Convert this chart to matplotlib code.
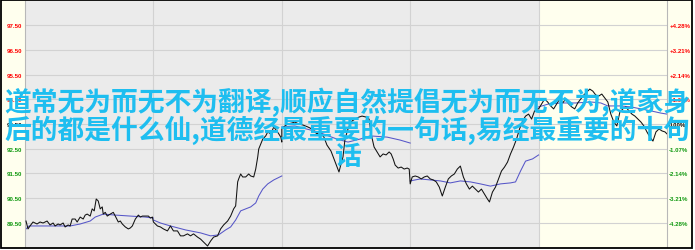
import matplotlib
matplotlib.use("Agg")
import matplotlib.pyplot as plt
from matplotlib.patches import Rectangle
import numpy as np

# Five-session intraday chart: each session has 128 sample slots
SLOTS = 128
prev_close = 93.50

# ---- session price samples (slot index, price) ----
day1_t = [1, 3, 5, 8, 12, 15, 18, 22, 25, 28, 30, 33, 35, 38, 40, 43, 45, 47, 50, 52,
          55, 58, 60, 62, 65, 67, 69, 71, 73, 75, 77, 78, 80, 82, 85, 88, 90, 93, 95, 97,
          100, 103, 105, 107, 110, 113, 115, 117, 120, 123, 125, 127]
day1_px = [89.58, 89.26, 89.38, 89.54, 89.46, 89.54, 89.50, 89.58, 89.42, 89.50,
           89.38, 89.46, 89.42, 89.50, 89.34, 89.42, 89.38, 89.66, 89.66, 89.54,
           89.74, 89.66, 89.82, 89.86, 89.78, 90.07, 89.99, 90.47, 90.39, 90.07,
           90.15, 89.86, 89.93, 89.78, 89.86, 89.93, 89.78, 89.54, 89.58, 89.46,
           89.34, 89.26, 89.30, 89.38, 89.66, 89.82, 89.74, 89.78, 89.78, 89.78,
           89.70, 89.74]

day2_t = [0, 4, 7, 10, 14, 17, 20, 24, 27, 30, 34, 37, 40, 44, 47, 50, 54, 57, 60, 64,
          67, 70, 74, 77, 80, 82, 84, 85, 87, 89, 92, 95, 97, 100, 102, 104, 105, 107,
          109, 112, 114, 117, 120, 123, 125, 127, 128]
day2_px = [89.54, 89.38, 89.34, 89.26, 89.18, 89.38, 89.18, 89.18, 88.98, 88.98,
           89.06, 88.98, 89.06, 88.93, 88.85, 88.73, 88.57, 88.77, 88.93, 88.98,
           89.26, 89.42, 89.58, 89.78, 90.07, 90.19, 91.16, 91.28, 91.48, 91.36,
           91.36, 91.48, 91.40, 91.36, 91.68, 92.17, 92.49, 92.69, 92.89, 93.02,
           93.18, 93.10, 93.38, 93.22, 93.10, 92.97, 92.77]

day3_t = [0, 3, 6, 10, 13, 17, 21, 26, 30, 35, 38, 42, 45, 49, 52, 55, 57, 59, 61, 63,
          66, 70, 73, 77, 80, 84, 87, 89, 92, 95, 98, 101, 104, 107, 109, 111, 113, 116,
          119, 122, 125, 127]
day3_px = [93.30, 93.42, 93.50, 93.54, 93.58, 93.50, 93.46, 93.38, 93.30, 93.10,
           93.18, 92.97, 92.65, 92.41, 92.09, 91.76, 91.56, 91.88, 92.17, 92.89,
           93.30, 93.62, 93.70, 93.78, 93.82, 93.78, 93.70, 93.10, 92.57, 92.37,
           92.17, 92.29, 92.25, 92.37, 92.29, 92.09, 91.84, 91.72, 91.76, 91.68,
           91.72, 91.68]

day4_t = [0, 2, 5, 8, 11, 14, 17, 20, 23, 26, 29, 32, 35, 38, 41, 44, 47, 50, 53, 56,
          59, 62, 65, 68, 71, 74, 77, 79, 82, 85, 88, 91, 94, 97, 100, 103, 106, 109,
          112, 115, 118, 121, 124, 127]
day4_px = [91.08, 91.36, 91.40, 91.36, 91.28, 91.36, 91.40, 91.28, 91.24, 91.16,
           90.95, 90.59, 90.95, 91.28, 91.40, 91.48, 91.68, 91.80, 91.36, 91.08,
           90.87, 90.99, 90.87, 90.75, 90.87, 90.67, 90.47, 90.35, 90.75, 90.95,
           91.28, 91.60, 91.76, 91.96, 92.29, 92.57, 92.89, 93.30, 93.62, 93.82,
           93.90, 93.70, 94.03, 94.11]

day5_t = [0, 3, 6, 9, 12, 15, 18, 21, 24, 27, 30, 33, 36, 39, 42, 45, 48, 51, 54, 57,
          60, 63, 66, 69, 72, 75, 78, 81, 84, 87, 90, 93, 96, 99, 102, 105, 108, 111,
          114, 117, 120, 123, 126, 128]
day5_px = [94.11, 94.31, 94.51, 94.39, 94.23, 94.11, 94.31, 94.51, 94.35, 94.51,
           94.31, 94.19, 94.11, 94.35, 94.51, 94.67, 94.79, 94.91, 94.83, 94.67,
           94.63, 94.71, 94.55, 94.39, 93.90, 93.58, 93.42, 93.98, 94.11, 94.19,
           94.03, 93.90, 93.82, 93.70, 93.58, 93.42, 93.18, 92.97, 92.81, 93.18,
           93.30, 93.22, 93.18, 93.10]

# ---- session average-price samples ----
avg1_t = [0, 4, 25, 45, 55, 65, 70, 78, 90, 105, 120, 128]
avg1 = [89.22, 89.38, 89.38, 89.38, 89.46, 89.58, 89.74, 89.86, 89.82, 89.78, 89.74, 89.70]

avg2_t = [0, 7, 17, 32, 47, 57, 65, 72, 77, 82, 87, 97, 102, 105, 109, 114, 120, 128]
avg2 = [89.62, 89.50, 89.38, 89.22, 89.10, 88.98, 89.02, 89.22, 89.34, 89.62,
        89.99, 90.15, 90.31, 90.59, 90.87, 91.08, 91.24, 91.40]

avg3_t = [0, 13, 36, 55, 66, 78, 88, 105, 118, 128]
avg3 = [93.38, 93.42, 93.18, 92.89, 92.77, 92.89, 93.02, 92.97, 92.85, 92.73]

avg4_t = [0, 10, 20, 30, 40, 50, 60, 70, 80, 90, 100, 105, 110, 115, 122, 128]
avg4 = [91.20, 91.28, 91.24, 91.20, 91.12, 91.20, 91.16, 91.08, 90.99, 91.08,
        91.12, 91.16, 91.60, 92.00, 92.09, 92.25]

avg5_t = [0, 10, 22, 37, 52, 62, 69, 82, 92, 102, 112, 122, 128]
avg5 = [94.19, 94.31, 94.35, 94.35, 94.39, 94.35, 94.23, 94.23, 94.19, 94.11,
        94.03, 93.94, 93.90]

price_ticks = [89.5, 90.5, 91.5, 92.5, 93.5, 94.5, 95.5, 96.5, 97.5]

headline = ["道常无为而无不为翻译,顺应自然提倡无为而无不为,道家身",
            "后的都是什么仙,道德经最重要的一句话,易经最重要的十句",
            "话"]

sessions = [(day1_t, day1_px), (day2_t, day2_px), (day3_t, day3_px),
            (day4_t, day4_px), (day5_t, day5_px)]
averages = [(avg1_t, avg1), (avg2_t, avg2), (avg3_t, avg3),
            (avg4_t, avg4), (avg5_t, avg5)]

W, H = 695, 251
fig = plt.figure(figsize=(W / 100, H / 100), dpi=100, facecolor="white")

# pale panel and black frame
fig.patches.append(Rectangle((1 / W, 2 / H), 691 / W, 248 / H, transform=fig.transFigure,
                             facecolor="#FFFFEE", edgecolor="none", zorder=-5))
fig.patches.append(Rectangle((1 / W, 2 / H), 691 / W, 248 / H, transform=fig.transFigure,
                             facecolor="none", edgecolor="black", linewidth=1.3, zorder=20))

ax = fig.add_axes([25 / W, 3 / H, 642 / W, 246 / H])
ax.set_facecolor("#EBEBEB")
ax.set_xlim(0, 5 * SLOTS)
ax.set_ylim(88.53, 98.47)
ax.axvspan(4 * SLOTS, 5 * SLOTS, color="#FFFFEE", zorder=0, linewidth=0)

ax.set_axisbelow(True)
ax.set_xticks([SLOTS * k for k in range(1, 5)])
ax.set_xticklabels([])
ax.set_yticks(price_ticks)
ax.grid(True, color="#D2D2D2", linewidth=0.8)
ax.tick_params(axis="x", length=0)

for s in ["top", "bottom"]:
    ax.spines[s].set_visible(False)
for s in ["left", "right"]:
    ax.spines[s].set_color("#B8B8B8")
    ax.spines[s].set_linewidth(0.8)

# price line across all sessions
xs, ys = [], []
for k, (t, p) in enumerate(sessions):
    xs.extend(np.asarray(t) + k * SLOTS)
    ys.extend(p)
ax.plot(xs, ys, color="#111111", linewidth=0.75, zorder=3)

# per-session average lines
for k, (t, a) in enumerate(averages):
    ax.plot(np.asarray(t) + k * SLOTS, a, color="#5656C8", linewidth=0.75, zorder=2)


def tick_color(v):
    if v > prev_close + 1e-9:
        return "#FF0000"
    if v < prev_close - 1e-9:
        return "#119911"
    return "black"


tick_font = dict(family=["Liberation Sans", "DejaVu Sans"], size=4.4, weight="bold")
ax.set_yticklabels([f"{v:.2f}" for v in price_ticks], fontdict=tick_font)
ax.tick_params(axis="y", length=0, pad=2.2)
for lab, v in zip(ax.get_yticklabels(), price_ticks):
    lab.set_color(tick_color(v))

ax2 = ax.twinx()
ax2.set_ylim(ax.get_ylim())
ax2.set_yticks(price_ticks)


def pct_label(v):
    pct = (v - prev_close) / prev_close * 100
    if abs(pct) < 1e-9:
        return "0.00%"
    return f"{pct:+.2f}%"


ax2.set_yticklabels([pct_label(v) for v in price_ticks], fontdict=tick_font)
ax2.tick_params(axis="y", length=0, pad=1.6)
for lab, v in zip(ax2.get_yticklabels(), price_ticks):
    lab.set_color(tick_color(v))
for s in ax2.spines.values():
    s.set_visible(False)

# headline overlay
title_font = dict(family=["Noto Sans CJK SC", "DejaVu Sans"], size=19.3,
                  weight="bold", color="#1EBEF0")
for line, yc in zip(headline, [102, 130, 157]):
    fig.text(0.5, 1 - yc / H, line, ha="center", va="center", zorder=30, **title_font)

fig.savefig("out.png", dpi=100, facecolor=fig.get_facecolor())
